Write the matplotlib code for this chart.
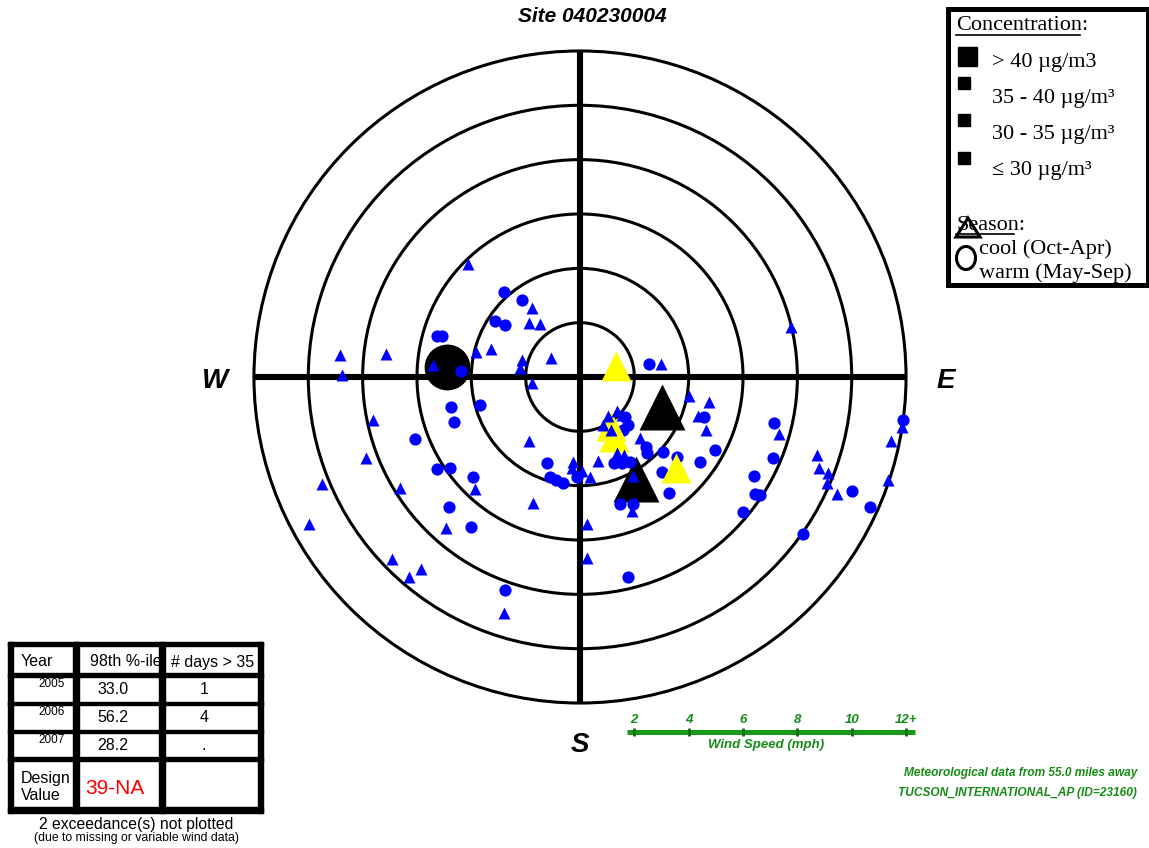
import matplotlib
matplotlib.use("Agg")
import matplotlib.pyplot as plt
from matplotlib.patches import Circle, Rectangle, Polygon, Ellipse

# ---------------- data ----------------
# Pollution-rose points: wind-vector position in mph (east, north components)

# warm season (May-Sep), <= 30 ug/m3
warm_low_east = [-2.80, -2.13, -3.13, -2.76, -5.26, -5.08, -4.38, -4.75, -3.68, -4.64,
                 -6.07, -5.26, -4.78, -3.94, -4.82, -4.01, -2.76, -1.21, -1.10, -0.88,
                 -0.63, -0.11, 2.54, 4.56, 1.66, 1.77, 1.58, 2.43, 2.47, 3.05,
                 4.97, 1.25, 1.55, 1.84, 3.02, 3.28, 3.57, 4.42, 1.47, 1.95,
                 1.77, 7.14, 7.10, 6.40, 6.44, 6.62, 6.00, 8.21, 10.01, 10.67, 11.89]
warm_low_north = [3.13, 2.83, 2.06, 1.91, 1.51, 1.51, 0.22, -1.10, -1.03, -1.66,
                  -2.28, -3.39, -3.35, -3.68, -4.78, -5.52, -7.84, -3.17, -3.68, -3.79,
                  -3.90, -3.68, 0.48, -1.47, -1.47, -1.77, -1.95, -2.58, -2.80, -2.76,
                  -2.69, -3.17, -3.17, -3.13, -3.50, -4.27, -2.94, -3.13, -4.67, -4.67,
                  -7.36, -1.69, -2.98, -3.64, -4.31, -4.34, -4.97, -5.78, -4.20, -4.78, -1.58]

# cool season (Oct-Apr), <= 30 ug/m3
cool_low_east = [-4.12, -1.77, -1.88, -1.47, -5.41, -8.83, -7.14, -8.76, -3.83, -3.28,
                 -2.13, -2.21, -1.07, -1.77, -7.62, -1.88, -7.88, -9.50, -6.62, -3.86,
                 -4.93, -9.97, -1.73, -0.26, -0.29, 0.07, 0.37, 0.66, -6.92, -5.85,
                 -6.29, -2.80, 0.26, 0.26, 2.98, 7.77, 4.01, 4.75, 4.34, 4.64,
                 7.32, 11.85, 11.45, 1.03, 1.36, 1.55, 0.85, 1.14, 2.21, 1.36,
                 1.62, 1.95, 1.91, 8.72, 8.80, 9.13, 9.09, 9.46, 11.34]
cool_low_north = [4.16, 2.54, 1.99, 1.95, 0.44, 0.81, 0.85, 0.07, 0.92, 1.03,
                  0.63, 0.33, 0.70, -0.22, -1.58, -2.36, -2.98, -3.94, -4.09, -4.12,
                  -5.56, -5.41, -4.64, -3.13, -3.35, -3.46, -3.68, -3.09, -6.70, -7.07,
                  -7.36, -8.69, -5.41, -6.66, 0.48, 1.84, -0.70, -0.92, -1.44, -1.95,
                  -2.10, -1.84, -2.36, -1.44, -1.25, -1.40, -1.77, -1.95, -2.25, -2.80,
                  -2.87, -3.64, -4.93, -2.87, -3.35, -3.53, -3.90, -4.31, -3.79]

# cool season, 35 - 40 ug/m3
cool_mid_east = [1.31, 1.14, 1.25, 3.55]
cool_mid_north = [0.39, -1.82, -2.19, -3.35]

# cool season, > 40 ug/m3
cool_high_east = [3.00, 2.06]
cool_high_north = [-1.10, -3.77]

# warm season, > 40 ug/m3
warm_high_east = [-4.90]
warm_high_north = [0.37]

ring_speeds = [2, 4, 6, 8, 10, 12]
scale_ticks = [2, 4, 6, 8, 10, 12]
scale_labels = ["2", "4", "6", "8", "10", "12+"]

table_years = ["2005", "2006", "2007"]
table_p98 = ["33.0", "56.2", "28.2"]
table_days = ["1", "4", "."]
design_value = "39-NA"

# ---------------- layout ----------------
W, H = 1149, 848
K = 27.17          # pixels per mph
CX, CY = 580, 377  # rose centre (pixels)
L = 12.7

SANS = ["Liberation Sans", "DejaVu Sans"]
SERIF = ["Liberation Serif", "DejaVu Serif"]
GREEN = "#179917"
GREEN_TXT = "#168c16"

fig = plt.figure(figsize=(W / 100, H / 100), dpi=100)
fig.patch.set_facecolor("white")

half = L * K
ax = fig.add_axes([(CX - half) / W, (H - CY - half) / H, 2 * half / W, 2 * half / H])
ax.set_xlim(-L, L)
ax.set_ylim(-L, L)
ax.axis("off")

# rings and compass cross
for r in ring_speeds:
    ax.add_patch(Circle((0, 0), r, fill=False, lw=2.2, ec="black", zorder=1))
rmax = ring_speeds[-1]
ax.plot([-rmax, rmax], [0, 0], color="black", lw=4.4, solid_capstyle="butt", zorder=1.5)
ax.plot([0, 0], [-rmax, rmax], color="black", lw=4.4, solid_capstyle="butt", zorder=1.5)

# markers
ax.plot(warm_high_east, warm_high_north, ls="none", marker="o", ms=33,
        color="black", mec="none", zorder=2)
ax.plot(cool_high_east, cool_high_north, ls="none", marker="^", ms=33,
        color="black", mec="none", zorder=2)
ax.plot(warm_low_east, warm_low_north, ls="none", marker="o", ms=8.8,
        color="#0000ff", mec="none", zorder=3)
ax.plot(cool_mid_east, cool_mid_north, ls="none", marker="^", ms=21,
        color="#ffff00", mec="none", zorder=4)
ax.plot(cool_low_east, cool_low_north, ls="none", marker="^", ms=8.2,
        color="#0000ff", mec="none", zorder=5)

# compass letters
lbl = dict(fontsize=20, weight="bold", style="italic", family=SANS,
           ha="center", va="center", clip_on=False)
ax.text(-13.43, -0.15, "W", **lbl)
ax.text(13.47, -0.15, "E", **lbl)
ax.text(0.0, -13.54, "S", **lbl)

# wind speed scale
ys = -13.05
ax.plot([1.72, 12.33], [ys, ys], color=GREEN, lw=3.6, solid_capstyle="butt", clip_on=False)
ax.plot(scale_ticks, [ys] * len(scale_ticks), ls="none", marker="|", ms=6, mew=2,
        color="#0f6e0f", clip_on=False)
for v, t in zip(scale_ticks, scale_labels):
    ax.text(v, -12.63, t, fontsize=9.5, weight="bold", style="italic", family=SANS,
            color=GREEN_TXT, ha="center", va="center", clip_on=False)
ax.text(6.85, -13.56, "Wind Speed (mph)", fontsize=9.5, weight="bold", style="italic",
        family=SANS, color=GREEN_TXT, ha="center", va="center", clip_on=False)

# ---------------- overlay in pixel units ----------------
ov = fig.add_axes([0, 0, 1, 1])
ov.set_xlim(0, W)
ov.set_ylim(H, 0)
ov.axis("off")

ov.text(592, 17, "Site 040230004", fontsize=15, weight="bold", style="italic",
        family=SANS, ha="center", va="center")

# legend box
ov.add_patch(Rectangle((948, 9), 200, 276, fill=False, lw=3.6, ec="black"))
lt = dict(fontsize=16, family=SERIF, ha="left", va="center")
ov.text(956, 25, "Concentration:", **lt)
ov.plot([956, 1080], [35, 35], color="black", lw=1.2)
ov.add_patch(Rectangle((958, 47), 19, 19, color="black"))
ov.text(992, 62, "> 40 \u00b5g/m3", **lt)
ov.add_patch(Rectangle((958, 77), 12, 12, color="black"))
ov.text(992, 98, "35 - 40 \u00b5g/m\u00b3", **lt)
ov.add_patch(Rectangle((958, 114), 12, 12, color="black"))
ov.text(992, 135, "30 - 35 \u00b5g/m\u00b3", **lt)
ov.add_patch(Rectangle((958, 151.5), 12, 12, color="black"))
ov.text(992, 171, "\u2264 30 \u00b5g/m\u00b3", **lt)
ov.text(956, 226, "Season:", **lt)
ov.plot([956, 1014], [234, 234], color="black", lw=1.2)
ov.add_patch(Polygon([(956, 237), (968, 218), (980, 237)], closed=True,
                     fill=False, lw=2.2, ec="black"))
ov.add_patch(Ellipse((966, 258), 19, 23, fill=False, lw=2.2, ec="black"))
ov.text(979, 249, "cool (Oct-Apr)", **lt)
ov.text(979, 273, "warm (May-Sep)", **lt)

# summary table
x0, x1, y0, y1 = 8, 263, 641.7, 813
ov.add_patch(Rectangle((x0, y0), x1 - x0, y1 - y0, color="white", zorder=1))
for a, b in [(8, 13), (73, 79), (159, 165), (258, 263)]:
    ov.add_patch(Rectangle((a, y0), b - a, y1 - y0, color="black", zorder=5))
for a, b in [(641.7, 645.7), (673, 677), (702, 705), (730, 733), (757, 761), (807, 813)]:
    ov.add_patch(Rectangle((x0, a), x1 - x0, b - a, color="black", zorder=5))

tt = dict(fontsize=11.5, family=SANS, va="center", zorder=3)
ov.text(21, 662, "Year", ha="left", **tt)
ov.text(90, 662, "98th %-ile", ha="left", **tt)
ov.text(213, 662, "# days > 35", ha="center", **tt)
for yr, p, d, yy in zip(table_years, table_p98, table_days, [684, 712, 740]):
    ov.text(65, yy, yr, ha="right", fontsize=8.5, family=SANS, va="center", zorder=3)
    ov.text(113, yy + 6, p, ha="center", **tt)
    ov.text(204, yy + 6, d, ha="center", **tt)
ov.text(21, 779, "Design", ha="left", **tt)
ov.text(21, 796, "Value", ha="left", **tt)
ov.text(85, 789, design_value, ha="left", fontsize=15, family=SANS, color="#ff0000",
        va="center", zorder=3)

ov.text(136.5, 824, "2 exceedance(s) not plotted", ha="center", va="center",
        fontsize=11.3, family=SANS)
ov.text(136.5, 838.5, "(due to missing or variable wind data)", ha="center",
        va="center", fontsize=8.8, family=SANS)

# met station note
nt = dict(fontsize=8.6, weight="bold", style="italic", family=SANS, color=GREEN_TXT,
          ha="right", va="center")
ov.text(1137, 773, "Meteorological data from 55.0 miles away", **nt)
ov.text(1137, 793, "TUCSON_INTERNATIONAL_AP (ID=23160)", **nt)

fig.savefig("out.png", dpi=100, facecolor="white")
